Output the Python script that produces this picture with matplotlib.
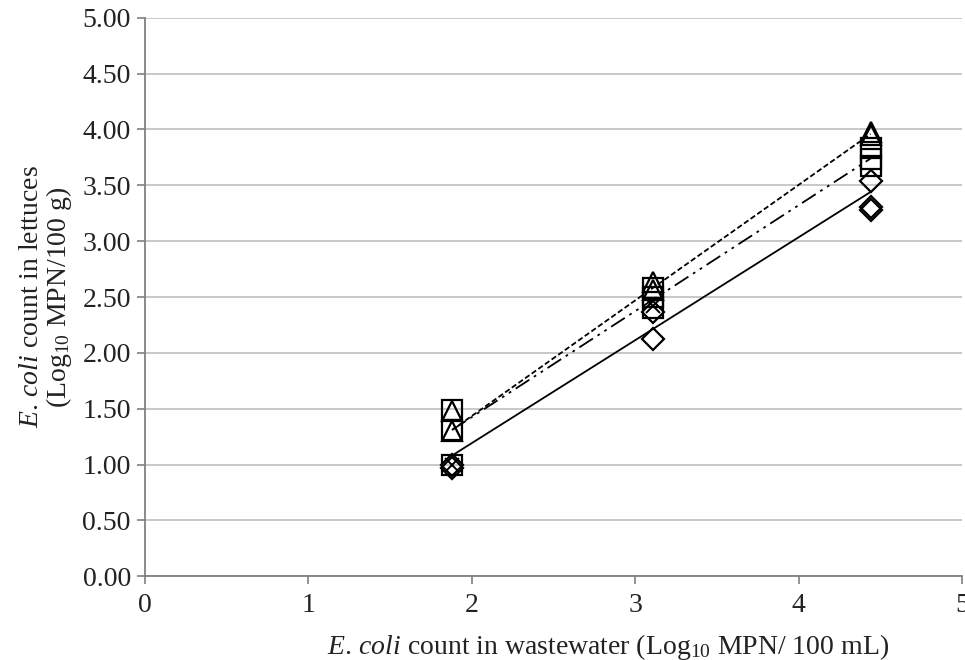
import matplotlib
matplotlib.use("Agg")
import matplotlib.pyplot as plt
import numpy as np

# Data
diamond_x = [1.88, 1.88, 3.11, 3.11, 4.44, 4.44, 4.44]
diamond_y = [1.00, 0.97, 2.12, 2.37, 3.54, 3.31, 3.28]
square_x = [1.88, 1.88, 1.88, 3.11, 3.11, 3.11, 4.44, 4.44, 4.44]
square_y = [1.49, 1.31, 1.00, 2.58, 2.50, 2.40, 3.83, 3.74, 3.67]
triangle_x = [1.88, 1.88, 3.11, 3.11, 4.44, 4.44]
triangle_y = [1.48, 1.30, 2.63, 2.56, 3.98, 3.95]
cross_x = [1.88, 3.11]
cross_y = [1.00, 2.42]

# Regression lines (slope, intercept)
fit_solid = (0.922, -0.653)
fit_dashdot = (0.949, -0.474)
fit_dashed = (1.035, -0.636)
fit_range = [1.88, 4.44]

plt.rcParams['font.family'] = ['Liberation Serif', 'DejaVu Serif']
plt.rcParams['mathtext.fontset'] = 'custom'
plt.rcParams['mathtext.rm'] = 'Liberation Serif'
plt.rcParams['mathtext.it'] = 'Liberation Serif:italic'

fig = plt.figure(figsize=(9.65, 6.6), dpi=100)
ax = fig.add_axes([0.150, 0.127, 0.847, 0.846])

xr = np.array(fit_range)
ax.plot(xr, fit_solid[0] * xr + fit_solid[1], color='black', lw=1.3, zorder=3)
ax.plot(xr, fit_dashdot[0] * xr + fit_dashdot[1], color='black', lw=1.3,
        linestyle=(0, (9, 3, 1.5, 3, 1.5, 3)), zorder=3)
ax.plot(xr, fit_dashed[0] * xr + fit_dashed[1], color='black', lw=1.3,
        linestyle=(0, (3, 1.5)), zorder=3)

ax.plot(square_x, square_y, linestyle='none', marker='s', ms=14, mfc='none',
        mec='black', mew=1.6, zorder=4)
ax.plot(triangle_x, triangle_y, linestyle='none', marker='^', ms=14, mfc='none',
        mec='black', mew=1.6, zorder=4)
ax.plot(diamond_x, diamond_y, linestyle='none', marker='D', ms=11, mfc='none',
        mec='black', mew=1.6, zorder=4)
ax.plot(cross_x, cross_y, linestyle='none', marker='x', ms=10, color='black',
        mew=1.4, zorder=4)

ax.set_xlim(0, 5)
ax.set_ylim(0, 5)
ax.set_xticks([0, 1, 2, 3, 4, 5])
ax.set_yticks(np.arange(0, 5.01, 0.5))
ax.set_yticklabels([f"{v:.2f}" for v in np.arange(0, 5.01, 0.5)])
ax.yaxis.grid(True, color='#bfbfbf', lw=1.2)
ax.set_axisbelow(True)
for s in ['top', 'right']:
    ax.spines[s].set_visible(False)
for s in ['left', 'bottom']:
    ax.spines[s].set_color('#808080')
    ax.spines[s].set_linewidth(1.3)
ax.tick_params(axis='both', colors='#808080', labelcolor='#222222', labelsize=20,
               length=6, width=1.2, direction='out')
ax.tick_params(axis='x', pad=6)
ax.tick_params(axis='y', pad=4)

ax.set_xlabel(r'$\mathit{E.\,coli}$ count in wastewater (Log$_{10}$ MPN/ 100 mL)',
              fontsize=20, color='#222222', labelpad=10)
ax.xaxis.label.set_x(0.567)
ax.set_ylabel('$\\mathit{E.\\,coli}$ count in lettuces\n(Log$_{10}$ MPN/100 g)',
              fontsize=20, color='#222222', labelpad=6, linespacing=1.0)

fig.savefig('out.png', dpi=100)
